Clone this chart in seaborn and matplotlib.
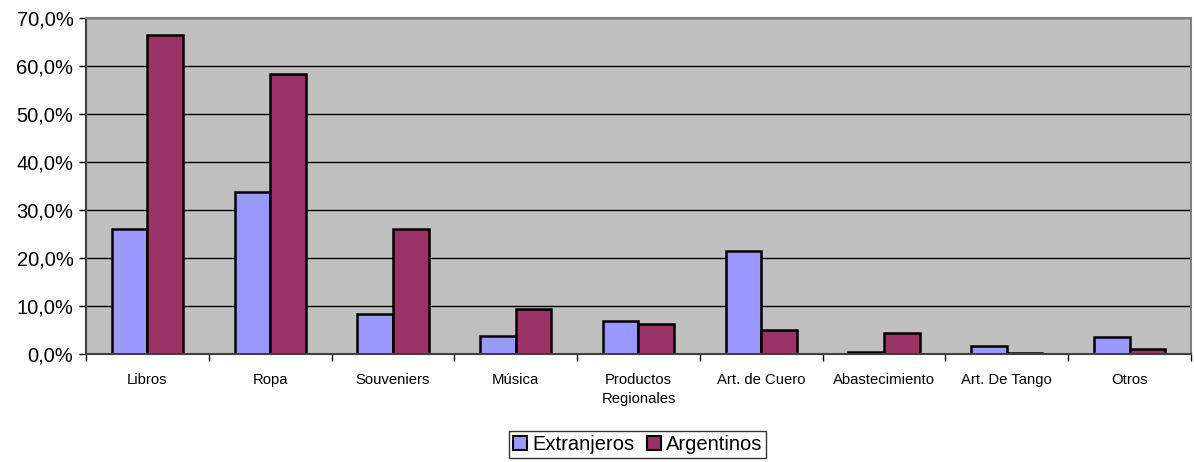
import matplotlib.pyplot as plt
import seaborn as sns
import pandas as pd
from matplotlib.ticker import FuncFormatter, FixedLocator

# Datos (porcentaje)
categorias = ['Libros', 'Ropa', 'Souveniers', 'Música', 'Productos\nRegionales',
              'Art. de Cuero', 'Abastecimiento', 'Art. De Tango', 'Otros']
extranjeros = [26.0, 33.8, 8.4, 3.8, 6.8, 21.4, 0.35, 1.6, 3.55]
argentinos = [66.4, 58.3, 26.0, 9.4, 6.3, 4.9, 4.45, 0.2, 1.0]
series = ['Extranjeros', 'Argentinos']
colores = ['#9999FF', '#993366']

df = pd.DataFrame({
    'Categoria': categorias * 2,
    'Valor': extranjeros + argentinos,
    'Grupo': [series[0]] * len(categorias) + [series[1]] * len(categorias),
})

plt.rcParams['font.family'] = ['Liberation Sans', 'DejaVu Sans']

fig = plt.figure(figsize=(11.94, 4.62), dpi=100)
ax = fig.add_axes([0.072, 0.2338, 0.9255, 0.7272])
ax.set_facecolor('#C0C0C0')

sns.barplot(data=df, x='Categoria', y='Valor', hue='Grupo', palette=colores, saturation=1,
            width=0.58, edgecolor='black', linewidth=1.8, ax=ax, legend=False)

ax.set_ylim(0, 70)
ax.set_xlim(-0.5, len(categorias) - 0.5)
ax.set_yticks(range(0, 71, 10))
ax.yaxis.set_major_formatter(FuncFormatter(lambda v, p: f'{v:.1f}%'.replace('.', ',')))
ax.grid(axis='y', color='black', linewidth=1)
ax.set_axisbelow(True)

# ticks de categoria en los limites
ax.xaxis.set_major_locator(FixedLocator(range(len(categorias))))
ax.set_xticklabels(categorias, fontsize=10.7, linespacing=1.4)
ax.tick_params(axis='x', which='major', length=0, pad=14)
ax.xaxis.set_minor_locator(FixedLocator([i - 0.5 for i in range(len(categorias) + 1)]))
ax.tick_params(axis='x', which='minor', length=5, width=1, color='black')
ax.tick_params(axis='y', labelsize=14.5, length=5, width=1, color='black', pad=4)

ax.set_xlabel('')
ax.set_ylabel('')
for s in ['top', 'right']:
    ax.spines[s].set_color('#808080')
    ax.spines[s].set_linewidth(1.5)
for s in ['left', 'bottom']:
    ax.spines[s].set_color('#404040')
    ax.spines[s].set_linewidth(1.5)

handles = [plt.Rectangle((0, 0), 1, 1, facecolor=c, edgecolor='black', linewidth=1.5) for c in colores]
leg = fig.legend(handles, series, loc='upper center', bbox_to_anchor=(0.534, 0.068), ncol=2,
                 fontsize=14.5, frameon=True, fancybox=False, edgecolor='black',
                 handlelength=0.7, handleheight=0.7, handletextpad=0.25, columnspacing=0.6,
                 borderpad=0.2, borderaxespad=0)
leg.get_frame().set_linewidth(1)

plt.savefig('out.png', dpi=100)
